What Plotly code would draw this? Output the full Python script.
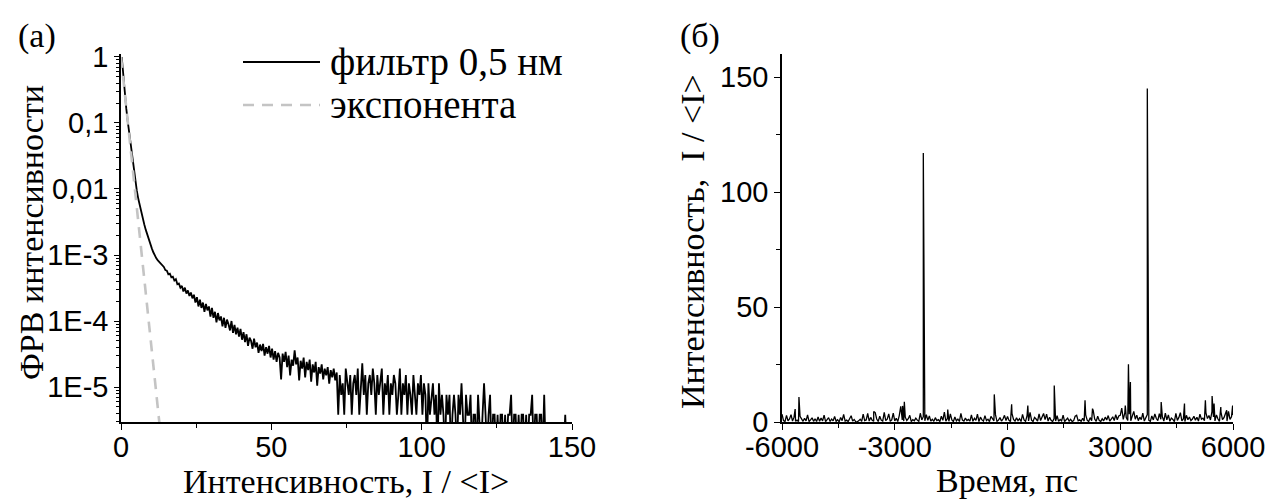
import numpy as np
import plotly.graph_objects as go

# ---------------- Panel (a): intensity PDF ----------------
bin_width = 0.5
intensity_bins = np.arange(bin_width / 2, 150, bin_width)

# probability density for I/<I> = 0.25 ... 71.75 (step 0.5)
pdf_head = [
    1.0, 0.52, 0.28, 0.166, 0.105, 0.069, 0.047, 0.032, 0.021, 0.0138,
    0.0095, 0.0071, 0.0055, 0.0044, 0.0035, 0.0029, 0.0024, 0.0020, 0.0017, 0.00145,
    0.00126, 0.0011, 0.00098, 0.00089,
    # 12.25 ... 19.75
    8.3e-4, 7.8e-4, 7.4e-4, 6.8e-4, 6.6e-4, 5.9e-4, 5.8e-4, 5.1e-4,
    5.2e-4, 4.6e-4, 4.7e-4, 4.1e-4, 4.3e-4, 3.6e-4, 3.7e-4, 3.2e-4,
    # 20.25 ... 29.75
    3.4e-4, 2.8e-4, 3.2e-4, 2.6e-4, 2.9e-4, 2.4e-4, 2.7e-4, 2.2e-4, 2.5e-4, 1.9e-4,
    2.3e-4, 1.66e-4, 2.1e-4, 1.58e-4, 1.9e-4, 1.38e-4, 1.82e-4, 1.45e-4, 1.66e-4, 1.17e-4,
    # 30.25 ... 39.75
    1.58e-4, 1.12e-4, 1.38e-4, 9.5e-5, 1.32e-4, 1.02e-4, 1.17e-4, 8.3e-5, 1.12e-4, 7.9e-5,
    1.05e-4, 8.9e-5, 7.2e-5, 1.0e-4, 6.6e-5, 8.7e-5, 6.3e-5, 7.9e-5, 5.8e-5, 7.6e-5,
    # 40.25 ... 49.75
    5.2e-5, 6.8e-5, 4.8e-5, 6.3e-5, 4.2e-5, 5.6e-5, 5.0e-5, 3.8e-5, 5.4e-5, 4.0e-5,
    4.7e-5, 3.3e-5, 4.4e-5, 3.5e-5, 4.5e-5, 3.0e-5, 4.0e-5, 3.2e-5, 4.2e-5, 2.8e-5,
    # 50.25 ... 59.75
    3.8e-5, 2.6e-5, 3.5e-5, 2.4e-5, 3.3e-5, 2.8e-5, 1.3e-5, 3.2e-5, 2.4e-5, 3.4e-5,
    2.0e-5, 3.0e-5, 1.5e-5, 2.6e-5, 2.1e-5, 3.6e-5, 2.2e-5, 2.8e-5, 1.26e-5, 2.5e-5,
    # 60.25 ... 71.75
    1.9e-5, 2.8e-5, 1.4e-5, 2.4e-5, 1.8e-5, 2.6e-5, 1.2e-5, 2.2e-5, 1.66e-5, 2.4e-5,
    1.05e-5, 2.0e-5, 1.6e-5, 2.2e-5, 1.3e-5, 1.9e-5, 1.5e-5, 2.0e-5, 1.12e-5, 1.8e-5,
    1.4e-5, 1.9e-5, 1.26e-5, 1.66e-5,
]

# sparse tail, I/<I> = 72.25 ... 149.75: histogram counts per bin
tail_counts = [
    1, 4, 2, 3, 1, 5, 3, 2, 4, 1, 3, 4, 2, 5, 1, 3, 6, 2, 4, 1,
    3, 4, 2, 5, 3, 1, 4, 2, 3, 5, 1, 3, 2, 4, 1, 3, 2, 4, 3, 1,
    2, 5, 1, 3, 2, 4, 1, 3, 2, 1, 4, 2, 1, 3, 2, 4,
    1, 3, 2, 0, 3, 1, 2, 3, 1, 2, 0, 3, 1, 2, 1, 0, 2, 1, 2, 0,
    1, 2, 1, 0, 2, 1, 3, 1, 0, 2, 1, 1, 2, 0, 1, 1, 0, 2, 1, 0,
    1, 3, 1, 0, 1, 2, 0, 1, 1, 0,
    1, 0, 1, 1, 0, 1, 0, 1, 1, 2, 0, 1, 1, 0, 1, 0, 1, 1, 0, 1,
    0, 1, 1, 2, 0, 1, 1, 0, 1, 1, 0, 2, 0, 0, 0, 0, 0, 0, 0, 0,
    0, 0, 0, 0, 0, 1, 0, 0, 0, 0,
]
density_per_count = 3.8e-6
below_axis = 1e-6  # empty bins drop off the bottom of the log axis

pdf_values = pdf_head + [c * density_per_count if c else below_axis for c in tail_counts]

# exponential distribution e^{-I}
expo_intensity = [0.0, 13.0]
expo_pdf = [1.0, 2.26e-6]

# ---------------- Panel (б): intensity vs time ----------------
time_step = 40
time_grid = np.arange(-6000, 6001, time_step)
background = [
    3.4, 0.6, 0.2, 2.9, 0.5, 1.3, 3.2, 0.4, 2.1, 0.3, 0.8, 0.2, 2.5, 1.1, 0.3, 1.6, 0.5, 3.1, 0.2, 0.9, 1.8, 0.3, 1.4, 0.2, 2.2,
    0.3, 1.7, 0.5, 3.0, 0.2, 0.9, 1.9, 0.2, 1.3, 0.5, 2.4, 0.3, 1.0, 0.1, 2.0, 0.6, 3.3, 0.4, 0.8, 0.2, 1.5, 2.7, 0.4, 1.1, 0.2,
    0.1, 0.5, 1.2, 0.3, 3.4, 0.6, 0.9, 3.7, 0.4, 2.0, 0.7, 0.3, 4.1, 1.3, 0.2, 2.5, 0.8, 0.4, 4.2, 0.6, 1.2, 3.5, 0.3, 0.9, 3.9,
    0.5, 1.6, 0.2, 2.8, 6.8, 0.9, 0.4, 2.1, 0.6, 1.4, 2.9, 0.2, 1.0, 0.5, 1.7, 0.8, 0.3, 3.8, 0.9, 2.3, 0.5, 3.2, 0.7, 2.6, 0.4,
    1.2, 0.3, 1.9, 0.6, 1.0, 0.2, 2.5, 0.7, 4.3, 0.4, 1.5, 0.3, 3.5, 0.9, 0.2, 2.2, 0.5, 1.3, 0.2, 3.7, 0.8, 0.4, 1.7, 0.6, 1.1,
    0.4, 3.1, 0.3, 1.6, 0.7, 3.4, 0.2, 2.1, 0.9, 0.4, 2.8, 0.6, 1.2, 0.2, 2.4, 1.5, 0.5, 3.2, 0.3, 0.8, 1.9, 0.4, 1.3, 2.9, 0.6,
    2.4, 0.7, 0.2, 3.6, 1.1, 0.4, 1.8, 0.6, 1.4, 0.2, 3.3, 0.9, 0.3, 2.7, 0.5, 4.2, 0.8, 0.2, 2.0, 1.3, 0.4, 3.5, 0.6, 2.2, 3.7,
    1.0, 3.4, 0.4, 2.1, 0.7, 0.2, 1.5, 0.4, 2.7, 0.3, 1.1, 0.5, 3.0, 0.2, 0.8, 1.7, 0.4, 1.2, 0.2, 0.6, 2.5, 2.9, 0.5, 0.9, 0.3,
    1.6, 0.4, 3.1, 0.8, 0.2, 1.9, 0.6, 5.0, 1.3, 0.3, 2.5, 0.7, 0.2, 1.4, 0.5, 2.1, 0.9, 2.8, 0.4, 1.2, 2.3, 0.6, 3.2, 1.0, 2.6,
    2.9, 6.0, 1.1, 3.8, 1.9, 0.7, 3.4, 0.5, 2.4, 4.6, 1.2, 3.0, 0.6, 2.1, 1.0, 3.9, 0.4, 1.7, 3.2, 0.8, 0.3, 2.6, 0.9, 3.5, 1.5,
    0.6, 3.6, 1.2, 2.3, 0.4, 3.9, 0.9, 3.1, 0.3, 1.7, 1.1, 0.2, 3.7, 0.7, 2.0, 4.1, 0.5, 1.4, 0.2, 2.9, 1.0, 2.2, 0.6, 1.3, 2.5,
    0.8, 2.1, 0.4, 3.4, 1.2, 1.7, 0.6, 4.0, 1.5, 2.8, 0.9, 4.5, 2.2, 0.5, 3.1, 1.3, 0.3, 4.3, 1.0, 1.9, 3.7, 0.4, 4.6, 1.1, 2.3,
    3.0,
]
pulse_times = [-5650, -5549, -3560, -2790, -2745, -2240, -1590, -352, 110, 541, 1244, 2063,
               2262, 3134, 3218, 3270, 3720, 4089, 4709, 5265, 5444, 5496, 5675, 5832, 5990]
pulse_heights = [5.6, 10.9, 4.6, 7.0, 8.8, 117.0, 5.4, 12.0, 7.7, 7.2, 15.9, 9.4,
                 5.8, 7.2, 25.1, 17.4, 145.0, 8.7, 8.0, 9.4, 11.3, 8.0, 6.5, 5.1, 7.2]

series = sorted(list(zip(time_grid.tolist(), background)) + list(zip(pulse_times, pulse_heights)))
time_ps = [t for t, _ in series]
intensity_t = [v for _, v in series]

time_ticks = [-6000, -3000, 0, 3000, 6000]
time_tick_text = ["-6000", "-3000", "0", "3000", "6000"]

# ---------------- figure ----------------
W, H = 1269, 500
SANS = "Liberation Sans, Arial, sans-serif"
SERIF = "Liberation Serif, Times New Roman, serif"


def px(x):
    return x / W


def py(y):
    return 1 - y / H


fig = go.Figure()
fig.add_trace(go.Scatter(x=intensity_bins, y=pdf_values, mode="lines",
                         line=dict(color="black", width=1.8), xaxis="x", yaxis="y"))
fig.add_trace(go.Scatter(x=expo_intensity, y=expo_pdf, mode="lines",
                         line=dict(color="#c4c4c4", width=2.6, dash="11px,8px"), xaxis="x", yaxis="y"))
fig.add_trace(go.Scatter(x=time_ps, y=intensity_t, mode="lines",
                         line=dict(color="black", width=1.3), xaxis="x2", yaxis="y2"))

axis_common = dict(showline=True, linecolor="black", linewidth=1.5, ticks="outside",
                   tickcolor="black", tickwidth=1.4, ticklen=6, showgrid=False, zeroline=False,
                   automargin=False, tickfont=dict(family=SANS, size=29, color="black"))
minor_common = dict(ticks="outside", ticklen=4, tickwidth=1.2, tickcolor="black", showgrid=False)

log_minor = [m * 10.0 ** e for e in range(-6, 1) for m in range(2, 10)]

y_dom = [py(422), py(54)]
fig.update_layout(
    width=W, height=H, margin=dict(l=0, r=0, t=0, b=0, autoexpand=False),
    paper_bgcolor="white", plot_bgcolor="white", showlegend=False,
    xaxis=dict(domain=[px(121), px(572)], range=[0, 150], anchor="y",
               tickvals=[0, 50, 100, 150], minor=dict(tickvals=[25, 75, 125], **minor_common),
               ticklabelstandoff=-8, **axis_common),
    yaxis=dict(domain=y_dom, type="log", range=[-5.53, 0.045], anchor="x",
               tickvals=[1, 0.1, 0.01, 1e-3, 1e-4, 1e-5],
               ticktext=["1", "0,1", "0,01", "1E-3", "1E-4", "1E-5"],
               minor=dict(tickvals=log_minor, **{**minor_common, "ticklen": 3}),
               **{**axis_common, "ticklen": 5}),
    xaxis2=dict(domain=[px(782), px(1233)], range=[-6000, 6000], anchor="y2",
                tickvals=time_ticks, ticktext=time_tick_text,
                minor=dict(tickvals=[-4500, -1500, 1500, 4500], **minor_common),
                ticklabelstandoff=-8, **axis_common),
    yaxis2=dict(domain=y_dom, range=[0, 160], anchor="x2",
                tickvals=[0, 50, 100, 150], minor=dict(tickvals=[25, 75, 125], **minor_common),
                **axis_common),
)

title_font = dict(family=SERIF, size=34, color="black")
label_font = dict(family=SERIF, size=34, color="black")
notes = [
    (346, 481, "Интенсивность, I / &lt;I&gt;", 0, title_font),
    (1007, 480, "Время, пс", 0, title_font),
    (32, 233, "ФРВ интенсивности", -90, title_font),
    (692, 242, "Интенсивность,&nbsp; I / &lt;I&gt;", -90, title_font),
    (37, 36, "(a)", 0, label_font),
    (700, 36, "(б)", 0, label_font),
]
for x, y, text, ang, font in notes:
    fig.add_annotation(x=px(x), y=py(y), xref="paper", yref="paper", text=text, showarrow=False,
                       textangle=ang, font=font, xanchor="center", yanchor="middle")

# legend
legend_rows = [(62, "фильтр 0,5 нм", dict(color="black", width=2)),
               (105, "экспонента", dict(color="#c4c4c4", width=2.6, dash="11px,8px"))]
for y, label, line in legend_rows:
    fig.add_shape(type="line", xref="paper", yref="paper", x0=px(243), x1=px(320),
                  y0=py(y), y1=py(y), line=line)
    fig.add_annotation(x=px(328), y=py(y), xref="paper", yref="paper", text=label, showarrow=False,
                       xanchor="left", yanchor="middle", font=dict(family=SERIF, size=39, color="black"))

fig.write_html("out.html")
